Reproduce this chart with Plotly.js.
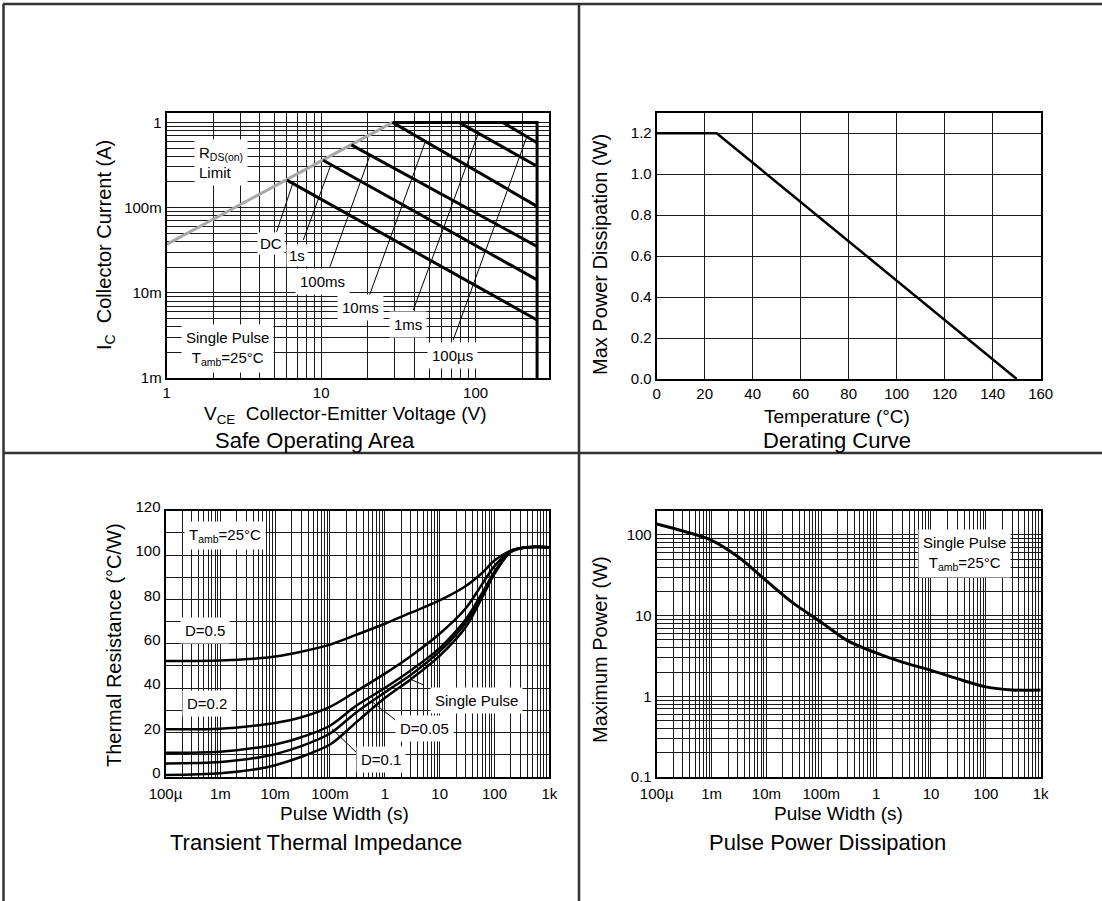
<!DOCTYPE html>
<html><head><meta charset="utf-8">
<script src="https://cdn.plot.ly/plotly-3.0.1.min.js"></script>
<style>html,body{margin:0;padding:0;background:#fff;}#chart{width:1102px;height:901px;}</style>
</head><body><div id="chart"></div>
<script>
// ---------------- Safe Operating Area (VCE [V], IC [A]) ----------------
const soaVceTickVals = [1, 10, 100];
const soaVceTickText = ['1', '10', '100'];
const soaIcTickVals = [0.001, 0.01, 0.1, 1];
const soaIcTickText = ['1m', '10m', '100m', '1'];
const rdsLimitV = [1, 29];
const rdsLimitI = [0.037, 1];
const boundaryV = [29, 250, 250];
const boundaryI = [1, 1, 0.001];
const dcV = [6, 250];        const dcI = [0.21, 0.0048];
const s1V = [10.3, 250];     const s1I = [0.36, 0.0142];
const ms100V = [15.7, 250];  const ms100I = [0.545, 0.035];
const ms10V = [29, 250];     const ms10I = [1, 0.1035];
const ms1V = [78, 250];      const ms1I = [1, 0.306];
const us100V = [150, 250];   const us100I = [1, 0.577];
// leader lines (label -> curve)
const leadDcV = [5.15, 6.5];     const leadDcI = [0.052, 0.185];
const lead1sV = [7.66, 11.5];    const lead1sI = [0.0417, 0.31];
const lead100msV = [11.4, 20.7]; const lead100msI = [0.0202, 0.41];
const lead10msV = [20.2, 47];    const lead10msI = [0.0086, 0.58];
const lead1msV = [39.5, 104];    const lead1msI = [0.00628, 0.74];
const lead100usV = [71.6, 214];  const lead100usI = [0.00279, 0.67];

// ---------------- Derating Curve ----------------
const tempTickVals = [0, 20, 40, 60, 80, 100, 120, 140, 160];
const tempTickText = ['0', '20', '40', '60', '80', '100', '120', '140', '160'];
const pdTickVals = [0, 0.2, 0.4, 0.6, 0.8, 1.0, 1.2];
const pdTickText = ['0.0', '0.2', '0.4', '0.6', '0.8', '1.0', '1.2'];
const deratingTempC = [0, 25, 150];
const deratingPowerW = [1.2, 1.2, 0];

// ---------------- Transient Thermal Impedance ----------------
const pwTickVals = [1e-4, 1e-3, 1e-2, 1e-1, 1, 10, 100, 1000];
const pwTickText = ['100µ', '1m', '10m', '100m', '1', '10', '100', '1k'];
const rthTickVals = [0, 20, 40, 60, 80, 100, 120];
const rthTickText = ['0', '20', '40', '60', '80', '100', '120'];
const pulseWidthS = [1e-4, 1e-3, 5e-3, 1e-2, 3e-2, 0.1, 0.3, 1, 3, 10, 30, 60, 100, 200, 400, 1000];
const rthD05 =    [52.2, 52.4, 53.4, 54.2, 56.4, 59.6, 64.0, 69.0, 74.0, 79.5, 86.0, 92.0, 97.5, 102.0, 103.5, 103.5];
const rthD02 =    [21.4, 21.6, 23.2, 24.2, 26.8, 31.5, 38.5, 46.5, 54.5, 64.5, 76.0, 87.0, 95.0, 102.0, 103.5, 103.5];
const rthD01 =    [10.8, 11.3, 13.2, 14.5, 17.8, 23.0, 32.0, 40.0, 48.0, 58.0, 71.0, 83.0, 92.5, 101.5, 103.5, 103.5];
const rthD005 =   [6.0, 6.6, 8.7, 10.2, 13.8, 19.5, 29.0, 38.0, 46.0, 56.5, 69.5, 82.0, 92.0, 101.5, 103.5, 103.5];
const rthSingle = [0.8, 1.6, 3.6, 5.2, 9.0, 14.5, 24.5, 35.5, 44.0, 54.5, 67.5, 81.0, 91.5, 101.5, 103.5, 103.5];
const leadSingleT = [5.1, 2.9];   const leadSingleR = [41.4, 44.0];
const leadD005T = [1.56, 0.586];  const leadD005R = [25.6, 33.8];
const leadD01T = [0.312, 0.109];  const leadD01R = [10.6, 21.6];

// ---------------- Pulse Power Dissipation ----------------
const ppTickVals = [0.1, 1, 10, 100];
const ppTickText = ['0.1', '1', '10', '100'];
const ppPulseWidthS = [1e-4, 3e-4, 1e-3, 3e-3, 1e-2, 3e-2, 0.1, 0.3, 1, 3, 10, 30, 100, 300, 1000];
const ppMaxPowerW =   [137, 112, 86, 54, 27, 14.5, 8.3, 4.9, 3.45, 2.65, 2.1, 1.66, 1.31, 1.2, 1.2];

// ---------------- helpers ----------------
const W = 1102, H = 901;
const FONT = 'Liberation Sans, Arial, Helvetica, sans-serif';
const fx = px => px / W;
const fy = py => 1 - py / H;

function logGrid(minVal, maxVal) {
  const out = [];
  for (let e = Math.floor(Math.log10(minVal)); e <= Math.ceil(Math.log10(maxVal)); e++) {
    for (let m = 1; m <= 9; m++) {
      const v = +(m * Math.pow(10, e)).toPrecision(6);
      if (v >= minVal * 0.9999 && v <= maxVal * 1.0001) out.push(v);
    }
  }
  return out;
}
function linGrid(a, b, step) {
  const out = [];
  for (let v = a; v <= b + 1e-9; v += step) out.push(+v.toFixed(6));
  return out;
}
function axis(domain, type, range, labelVals, labelText, grid, extra) {
  return Object.assign({
    domain: domain, type: type, range: range,
    tickmode: 'array', tickvals: labelVals, ticktext: labelText,
    ticks: '', showgrid: true, gridcolor: '#1a1a1a', gridwidth: 1,
    minor: { tickmode: 'array', tickvals: grid, showgrid: true, gridcolor: '#1a1a1a', gridwidth: 1, ticks: '' },
    zeroline: false, showline: true, mirror: true, linecolor: '#000', linewidth: 2,
    tickfont: { family: FONT, size: 15, color: '#000' }, fixedrange: true
  }, extra || {});
}

const blk = (x, y, xa, ya, w) => ({ x: x, y: y, xaxis: xa, yaxis: ya, mode: 'lines', type: 'scatter',
  line: { color: '#000', width: w }, hoverinfo: 'skip', showlegend: false });
const curve = (x, y, xa, ya, w) => Object.assign(blk(x, y, xa, ya, w), { line: { color: '#000', width: w, shape: 'spline', smoothing: 0.9 } });

const data = [
  // SOA
  Object.assign(blk(rdsLimitV, rdsLimitI, 'x', 'y', 3), { line: { color: '#a8a8a8', width: 3 } }),
  blk(boundaryV, boundaryI, 'x', 'y', 3),
  blk(dcV, dcI, 'x', 'y', 3), blk(s1V, s1I, 'x', 'y', 3), blk(ms100V, ms100I, 'x', 'y', 3),
  blk(ms10V, ms10I, 'x', 'y', 3), blk(ms1V, ms1I, 'x', 'y', 3), blk(us100V, us100I, 'x', 'y', 3),
  blk(leadDcV, leadDcI, 'x', 'y', 1), blk(lead1sV, lead1sI, 'x', 'y', 1), blk(lead100msV, lead100msI, 'x', 'y', 1),
  blk(lead10msV, lead10msI, 'x', 'y', 1), blk(lead1msV, lead1msI, 'x', 'y', 1), blk(lead100usV, lead100usI, 'x', 'y', 1),
  // Derating
  blk(deratingTempC, deratingPowerW, 'x2', 'y2', 2.5),
  // Transient
  curve(pulseWidthS, rthD05, 'x3', 'y3', 2.5), curve(pulseWidthS, rthD02, 'x3', 'y3', 2.5),
  curve(pulseWidthS, rthD01, 'x3', 'y3', 2.5), curve(pulseWidthS, rthD005, 'x3', 'y3', 2.5),
  curve(pulseWidthS, rthSingle, 'x3', 'y3', 2.5),
  blk(leadSingleT, leadSingleR, 'x3', 'y3', 1), blk(leadD005T, leadD005R, 'x3', 'y3', 1), blk(leadD01T, leadD01R, 'x3', 'y3', 1),
  // Pulse power
  curve(ppPulseWidthS, ppMaxPowerW, 'x4', 'y4', 3)
];

const soaX = [fx(166.7), fx(549.3)], soaY = [fy(378), fy(112.7)];
const derX = [fx(656.7), fx(1040.7)], derY = [fy(379), fy(112.7)];
const trX = [fx(165.5), fx(549.3)], trY = [fy(776.7), fy(510.7)];
const ppX = [fx(656.7), fx(1040.7)], ppY = [fy(777), fy(510.7)];

function txt(text, px, py, size, opts) {
  return Object.assign({ text: text, xref: 'paper', yref: 'paper', x: fx(px), y: fy(py),
    xanchor: 'center', yanchor: 'middle', showarrow: false,
    font: { family: FONT, size: size, color: '#000' } }, opts || {});
}
const boxed = (text, px, py, opts) => txt(text, px, py, 15, Object.assign({ bgcolor: '#fff', borderpad: 4 }, opts || {}));

const annotations = [
  // SOA labels
  boxed('R<sub>DS(on)</sub><br>Limit', 221, 163, { align: 'left' }),
  boxed('DC', 271, 243, { borderpad: 2 }),
  boxed('1s', 297, 256, { borderpad: 2 }),
  boxed('100ms', 322, 281),
  boxed('10ms', 360, 308),
  boxed('1ms', 408, 325),
  boxed('100µs', 452, 355),
  boxed('Single Pulse<br>T<sub>amb</sub>=25°C', 227.5, 348.5),
  // Transient labels
  boxed('T<sub>amb</sub>=25°C', 225, 535.5),
  boxed('D=0.5', 205, 630),
  boxed('D=0.2', 207, 703.5),
  boxed('Single Pulse', 476.5, 700),
  boxed('D=0.05', 424, 728.5),
  boxed('D=0.1', 381, 759),
  // Pulse labels
  boxed('Single Pulse<br>T<sub>amb</sub>=25°C', 964, 553),
  // axis titles
  txt('I<sub>C</sub>  Collector Current (A)', 105, 245, 20, { textangle: -90 }),
  txt('V<sub>CE</sub>  Collector-Emitter Voltage (V)', 345, 415, 19),
  txt('Max Power Dissipation (W)', 600, 255, 20, { textangle: -90 }),
  txt('Temperature (°C)', 837, 416, 19),
  txt('Thermal Resistance (°C/W)', 114, 645, 20, { textangle: -90 }),
  txt('Pulse Width (s)', 344, 813, 19),
  txt('Maximum Power (W)', 600, 650, 20, { textangle: -90 }),
  txt('Pulse Width (s)', 838, 813, 19),
  // chart titles
  txt('Safe Operating Area', 314.5, 440, 22),
  txt('Derating Curve', 837, 440, 22),
  txt('Transient Thermal Impedance', 316, 842, 22),
  txt('Pulse Power Dissipation', 827, 842, 22)
];

const frame = (x0, y0, x1, y1) => ({ type: 'line', xref: 'paper', yref: 'paper', x0: fx(x0), y0: fy(y0), x1: fx(x1), y1: fy(y1),
  line: { color: '#333', width: 2.5 }, layer: 'above' });
const shapes = [
  frame(3, 4, W, 4),
  frame(3.5, 4, 3.5, H),
  frame(579, 4, 579, H),
  frame(3, 453, W, 453)
];

const layout = {
  width: W, height: H, autosize: false,
  margin: { l: 0, r: 0, t: 0, b: 0, pad: 0 },
  paper_bgcolor: '#fff', plot_bgcolor: '#fff',
  showlegend: false,
  font: { family: FONT, color: '#000' },
  xaxis: axis(soaX, 'log', [0, Math.log10(300)], soaVceTickVals, soaVceTickText, logGrid(1, 300), { anchor: 'y' }),
  yaxis: axis(soaY, 'log', [-3, Math.log10(1.3)], soaIcTickVals, soaIcTickText, logGrid(0.001, 1), { anchor: 'x' }),
  xaxis2: axis(derX, 'linear', [0, 160], tempTickVals, tempTickText, tempTickVals, { anchor: 'y2' }),
  yaxis2: axis(derY, 'linear', [0, 1.3], pdTickVals, pdTickText, pdTickVals, { anchor: 'x2' }),
  xaxis3: axis(trX, 'log', [-4, 3], pwTickVals, pwTickText, logGrid(1e-4, 1000), { anchor: 'y3', ticklabelstandoff: 2 }),
  yaxis3: axis(trY, 'linear', [0, 120], rthTickVals, rthTickText, linGrid(0, 120, 10), { anchor: 'x3', ticklabelshift: -4 }),
  xaxis4: axis(ppX, 'log', [-4, 3], pwTickVals, pwTickText, logGrid(1e-4, 1000), { anchor: 'y4', ticklabelstandoff: 2 }),
  yaxis4: axis(ppY, 'log', [-1, Math.log10(200)], ppTickVals, ppTickText, logGrid(0.1, 200), { anchor: 'x4' }),
  annotations: annotations,
  shapes: shapes
};

Plotly.newPlot('chart', data, layout, { staticPlot: true, displayModeBar: false });
</script>
</body></html>
